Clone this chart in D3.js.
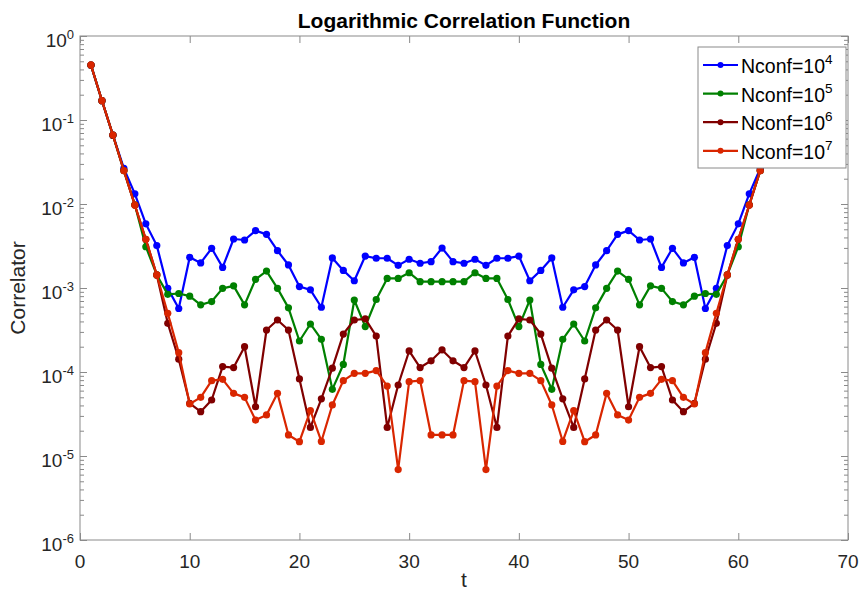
<!DOCTYPE html>
<html>
<head>
<meta charset="utf-8">
<script src="https://cdn.jsdelivr.net/npm/d3@7"></script>
<style>
  html, body { margin: 0; padding: 0; background: #fff; }
  svg { display: block; }
  text { font-family: "Liberation Sans", Arial, Helvetica, sans-serif; }
</style>
</head>
<body>
<svg id="chart" width="862" height="592"></svg>
<script>
// ---------------- data ----------------
const tValues = [1,2,3,4,5,6,7,8,9,10,11,12,13,14,15,16,17,18,19,20,21,22,23,24,25,26,27,28,29,30,
  31,32,33,34,35,36,37,38,39,40,41,42,43,44,45,46,47,48,49,50,51,52,53,54,55,56,57,58,59,60,61,62];

const nconf1e4 = [0.45, 0.17, 0.066, 0.0266, 0.0132, 0.0058, 0.0032, 0.00099, 0.00057, 0.00232,
  0.00199, 0.00297, 0.00176, 0.00383, 0.00373, 0.00482, 0.00435, 0.00278, 0.00188, 0.00104,
  0.00095, 0.00059, 0.00228, 0.00162, 0.00122, 0.0024, 0.00226, 0.00226, 0.00186, 0.0022,
  0.00197, 0.00206, 0.00299, 0.00206, 0.00197, 0.0022, 0.00186, 0.00226, 0.00226, 0.0024,
  0.00122, 0.00162, 0.00228, 0.00059, 0.00095, 0.00104, 0.00188, 0.00278, 0.00435, 0.00482,
  0.00373, 0.00383, 0.00176, 0.00297, 0.00199, 0.00232, 0.00057, 0.00099, 0.0032, 0.0058,
  0.0132, 0.0266];

const nconf1e5 = [0.45, 0.17, 0.066, 0.025, 0.0098, 0.0031, 0.00143, 0.00084, 0.00086, 0.0008,
  0.00063, 0.00069, 0.00099, 0.00106, 0.00063, 0.00127, 0.00159, 0.00099, 0.00058, 0.000234,
  0.000373, 0.000245, 0.0000622, 0.000123, 0.00072, 0.000347, 0.00073, 0.0013, 0.0013, 0.00152,
  0.00119, 0.00119, 0.00119, 0.00119, 0.00119, 0.00152, 0.0013, 0.0013, 0.00073, 0.000347,
  0.00072, 0.000123, 0.0000622, 0.000245, 0.000373, 0.000234, 0.00058, 0.00099, 0.00159, 0.00127,
  0.00063, 0.00106, 0.00099, 0.00069, 0.00063, 0.0008, 0.00086, 0.00084, 0.00143, 0.0031,
  0.0098, 0.025];

const nconf1e6 = [0.45, 0.17, 0.066, 0.025, 0.0097, 0.0038, 0.00143, 0.00038, 0.000142, 0.0000424,
  0.0000337, 0.0000464, 0.000116, 0.000113, 0.0002, 0.0000386, 0.000316, 0.000416, 0.000316, 0.0000826,
  0.0000219, 0.000048, 0.000111, 0.000283, 0.000416, 0.00043, 0.000268, 0.0000219, 0.00007, 0.000178,
  0.000113, 0.000136, 0.000183, 0.000136, 0.000113, 0.000178, 0.00007, 0.0000219, 0.000268, 0.00043,
  0.000416, 0.000283, 0.000111, 0.000048, 0.0000219, 0.0000826, 0.000316, 0.000416, 0.000316, 0.0000386,
  0.0002, 0.000113, 0.000116, 0.0000464, 0.0000337, 0.0000424, 0.000142, 0.00038, 0.00143, 0.0038,
  0.0097, 0.025];

const nconf1e7 = [0.452, 0.17, 0.0663, 0.0249, 0.0097, 0.0038, 0.00143, 0.0005, 0.00017, 0.0000416,
  0.0000499, 0.0000789, 0.0000818, 0.0000557, 0.0000499, 0.0000268, 0.0000308, 0.0000557, 0.0000178, 0.0000148,
  0.0000347, 0.0000149, 0.0000405, 0.0000789, 0.0000964, 0.0000964, 0.000104, 0.000068, 0.0000069, 0.0000767,
  0.0000789, 0.0000178, 0.0000178, 0.0000178, 0.0000789, 0.0000767, 0.0000069, 0.000068, 0.000104, 0.0000964,
  0.0000964, 0.0000789, 0.0000405, 0.0000149, 0.0000347, 0.0000148, 0.0000178, 0.0000557, 0.0000308, 0.0000268,
  0.0000499, 0.0000557, 0.0000818, 0.0000789, 0.0000499, 0.0000416, 0.00017, 0.0005, 0.00143, 0.0038,
  0.0097, 0.0249];

const seriesNames = ["Nconf=10", "Nconf=10", "Nconf=10", "Nconf=10"];
const seriesExps = ["4", "5", "6", "7"];
const seriesColors = ["#0000ff", "#008000", "#800000", "#d92600"];

const xTicks = [0, 10, 20, 30, 40, 50, 60, 70];
const yTickExps = [0, -1, -2, -3, -4, -5, -6];

const titleText = "Logarithmic Correlation Function";
const xLabel = "t";
const yLabel = "Correlator";

// ---------------- layout ----------------
const svg = d3.select("#chart");
const L = 80, R = 848, T = 36, B = 540;
const axisColor = "#8a8a8a";
const labelColor = "#262626";

const x = d3.scaleLinear().domain([0, 70]).range([L, R]);
const y = d3.scaleLog().domain([1e-6, 1]).range([B, T]);

const seriesData = [nconf1e4, nconf1e5, nconf1e6, nconf1e7].map((vals, i) => ({
  name: seriesNames[i], exp: seriesExps[i], color: seriesColors[i],
  points: vals.map((v, j) => ({ t: tValues[j], v }))
}));

// minor ticks for log axis
const minorTicks = [];
for (let e = -6; e < 0; e++) for (let m = 2; m <= 9; m++) minorTicks.push(m * Math.pow(10, e));
const majorTicksY = yTickExps.map(e => Math.pow(10, e));

// ---------------- axes ----------------
function styleAxis(g) {
  g.select(".domain").remove();
  g.selectAll(".tick line").attr("stroke", axisColor).attr("stroke-width", 1);
  g.selectAll(".tick text").remove();
}

svg.append("g").attr("transform", `translate(0,${B})`)
  .call(d3.axisBottom(x).tickValues(xTicks).tickSize(-7).tickSizeOuter(0)).call(styleAxis);
svg.append("g").attr("transform", `translate(0,${T})`)
  .call(d3.axisTop(x).tickValues(xTicks).tickSize(-7).tickSizeOuter(0)).call(styleAxis);
svg.append("g").attr("transform", `translate(${L},0)`)
  .call(d3.axisLeft(y).tickValues(majorTicksY).tickSize(-7).tickSizeOuter(0)).call(styleAxis);
svg.append("g").attr("transform", `translate(${R},0)`)
  .call(d3.axisRight(y).tickValues(majorTicksY).tickSize(-7).tickSizeOuter(0)).call(styleAxis);
svg.append("g").attr("transform", `translate(${L},0)`)
  .call(d3.axisLeft(y).tickValues(minorTicks).tickSize(-4).tickSizeOuter(0)).call(styleAxis);
svg.append("g").attr("transform", `translate(${R},0)`)
  .call(d3.axisRight(y).tickValues(minorTicks).tickSize(-4).tickSizeOuter(0)).call(styleAxis);

// box
svg.append("rect").attr("x", L).attr("y", T).attr("width", R - L).attr("height", B - T)
  .attr("fill", "none").attr("stroke", axisColor).attr("stroke-width", 1);

// x tick labels
svg.append("g").selectAll("text").data(xTicks).join("text")
  .attr("x", d => x(d)).attr("y", B + 28)
  .attr("text-anchor", "middle").attr("font-size", 19).attr("fill", labelColor)
  .text(d => d);

// y tick labels with superscripts
const yl = svg.append("g").selectAll("text").data(yTickExps).join("text")
  .attr("x", L - 6).attr("y", d => y(Math.pow(10, d)) + 11)
  .attr("text-anchor", "end").attr("font-size", 19).attr("fill", labelColor);
yl.append("tspan").text("10");
yl.append("tspan").attr("dy", -8).attr("font-size", 13).text(d => d === 0 ? "0" : "-" + Math.abs(d));

// title & labels
svg.append("text").attr("x", (L + R) / 2).attr("y", 28)
  .attr("text-anchor", "middle").attr("font-size", 21).attr("font-weight", "bold")
  .attr("fill", "#000").text(titleText);
svg.append("text").attr("x", (L + R) / 2).attr("y", 587)
  .attr("text-anchor", "middle").attr("font-size", 21).attr("fill", labelColor).text(xLabel);
svg.append("text").attr("transform", `translate(25,${(T + B) / 2}) rotate(-90)`)
  .attr("text-anchor", "middle").attr("font-size", 21).attr("fill", labelColor).text(yLabel);

// ---------------- series ----------------
const line = d3.line().x(d => x(d.t)).y(d => y(d.v));
const plot = svg.append("g");
seriesData.forEach(s => {
  const g = plot.append("g");
  g.append("path").datum(s.points).attr("d", line)
    .attr("fill", "none").attr("stroke", s.color).attr("stroke-width", 2.2)
    .attr("stroke-linejoin", "round");
  g.selectAll("circle").data(s.points).join("circle")
    .attr("cx", d => x(d.t)).attr("cy", d => y(d.v)).attr("r", 3.6)
    .attr("fill", s.color);
});

// ---------------- legend ----------------
const lg = svg.append("g");
lg.append("rect").attr("x", 698).attr("y", 47).attr("width", 148).attr("height", 121)
  .attr("fill", "#fff").attr("stroke", axisColor).attr("stroke-width", 1);
seriesData.forEach((s, i) => {
  const yy = 65 + i * 28.6;
  lg.append("line").attr("x1", 703).attr("x2", 738).attr("y1", yy).attr("y2", yy)
    .attr("stroke", s.color).attr("stroke-width", 2.2);
  lg.append("circle").attr("cx", 720.5).attr("cy", yy).attr("r", 3).attr("fill", s.color);
  const tx = lg.append("text").attr("x", 741).attr("y", yy + 8)
    .attr("font-size", 19.5).attr("fill", "#000");
  tx.append("tspan").text(s.name);
  tx.append("tspan").attr("dy", -9).attr("font-size", 13.5).text(s.exp);
});
</script>
</body>
</html>
